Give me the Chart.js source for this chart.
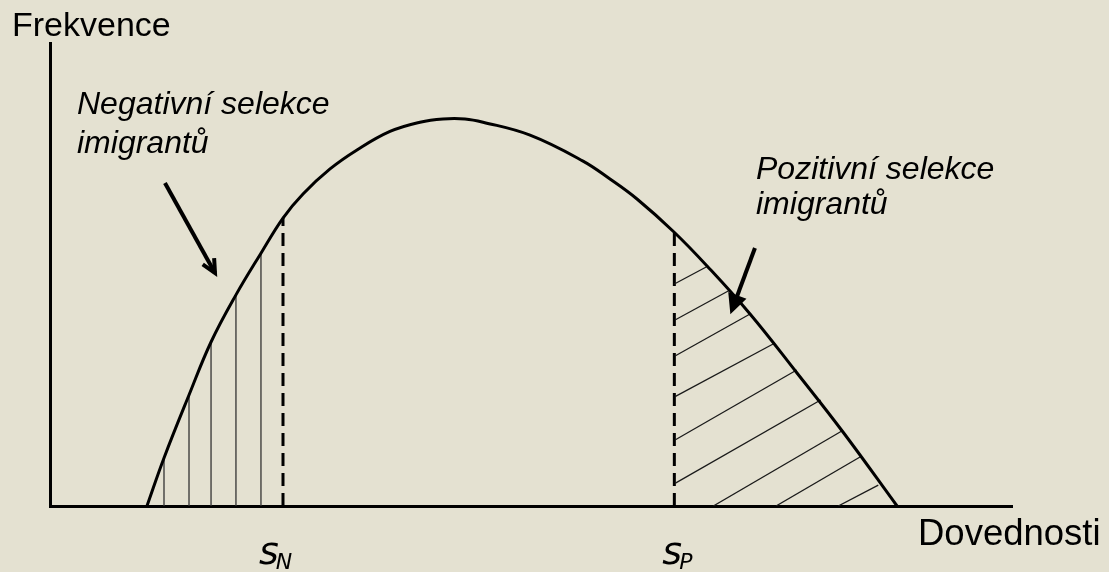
<!DOCTYPE html>
<html>
<head>
<meta charset="utf-8">
<script src="https://cdn.jsdelivr.net/npm/chart.js@4/dist/chart.umd.min.js"></script>
<style>
  html, body { margin: 0; padding: 0; background: #E4E1D1; }
</style>
</head>
<body>
<canvas id="graf" width="1109" height="572"></canvas>
<script>
// krivka rozdeleni dovednosti
const krivkaX = [10.08, 11.85, 14.45, 16.74, 19.33, 21.93, 24.22, 26.30, 29.11, 31.91, 35.34, 38.46, 40.85, 43.14, 45.01, 49.90, 55.41, 58.21, 61.02, 64.86, 68.30, 72.77, 77.65, 82.43, 88.05];
const krivkaY = [0, 10.37, 23.97, 35.42, 45.6, 54.6, 62.2, 67.4, 72.8, 76.9, 80.9, 82.9, 83.6, 83.6, 82.9, 80.1, 74.5, 70.63, 66.31, 59.18, 51.84, 41.47, 28.73, 15.98, 0];

// hranice s_N a s_P
const hraniceX = [24.22, 64.9];
const hraniceY = [62.2, 59.3];
const hraniceText = ['N', 'P'];

// svisle srafovani (negativni selekce)
const svisleX = [11.85, 14.45, 16.74, 19.33, 21.93];
const svisleY = [10.37, 23.97, 35.42, 45.6, 54.6];

// sikme srafovani (pozitivni selekce)
const sikmeX1 = [64.90, 64.97, 64.97, 64.97, 64.97, 64.97, 68.95, 75.47, 81.94];
const sikmeY1 = [47.95, 40.17, 32.40, 23.61, 14.25, 4.90, 0, 0, 0];
const sikmeX2 = [68.26, 70.69, 72.77, 75.36, 77.62, 80.11, 82.40, 84.38, 86.10];
const sikmeY2 = [51.68, 46.65, 41.47, 35.2, 29.37, 22.9, 16.3, 10.80, 4.5];

// sipky [x0, y0, x1, y1]
const sipkaNeg = [11.95, 69.76, 17.15, 50.32];
const sipkaPoz = [73.28, 55.72, 70.89, 42.33];

const datasets = [];

datasets.push({
  data: krivkaX.map((x, i) => ({ x: x, y: krivkaY[i] })),
  showLine: true,
  borderColor: '#000',
  borderWidth: 3,
  pointRadius: 0,
  tension: 0.4,
  clip: false
});

svisleX.forEach((x, i) => {
  datasets.push({
    data: [{ x: x, y: 0 }, { x: x, y: svisleY[i] }],
    showLine: true,
    borderColor: '#333',
    borderWidth: 1.3,
    pointRadius: 0
  });
});

sikmeX1.forEach((x, i) => {
  datasets.push({
    data: [{ x: x, y: sikmeY1[i] }, { x: sikmeX2[i], y: sikmeY2[i] }],
    showLine: true,
    borderColor: '#1a1a1a',
    borderWidth: 1.3,
    pointRadius: 0
  });
});

hraniceX.forEach((x, i) => {
  datasets.push({
    data: [{ x: x, y: 0 }, { x: x, y: hraniceY[i] }],
    showLine: true,
    borderColor: '#000',
    borderWidth: 3,
    borderDash: [13, 7],
    pointRadius: 0
  });
});

function sipka(ctx, x0, y0, x1, y1, plna) {
  const a = Math.atan2(y1 - y0, x1 - x0);
  const d = 15;
  ctx.beginPath();
  ctx.moveTo(x0, y0);
  ctx.lineTo(x1, y1);
  ctx.stroke();
  ctx.beginPath();
  ctx.moveTo(x1 - d * Math.cos(a - 0.45), y1 - d * Math.sin(a - 0.45));
  ctx.lineTo(x1, y1);
  ctx.lineTo(x1 - d * Math.cos(a + 0.45), y1 - d * Math.sin(a + 0.45));
  if (plna) {
    ctx.closePath();
    ctx.fill();
  }
  ctx.stroke();
}

const popisky = {
  id: 'popisky',
  beforeDraw(chart) {
    const ctx = chart.ctx;
    ctx.save();
    ctx.fillStyle = '#E4E1D1';
    ctx.fillRect(0, 0, chart.width, chart.height);
    ctx.restore();
  },
  afterDraw(chart) {
    const ctx = chart.ctx;
    const sx = chart.scales.x, sy = chart.scales.y;
    ctx.save();
    ctx.fillStyle = '#000';
    ctx.textBaseline = 'alphabetic';
    ctx.textAlign = 'left';

    ctx.font = '34px "Liberation Sans", Arial, sans-serif';
    ctx.fillText('Frekvence', 12, 36);
    ctx.font = '36.5px "Liberation Sans", Arial, sans-serif';
    ctx.fillText('Dovednosti', 918, 545);

    ctx.font = 'italic 32px "Liberation Sans", Arial, sans-serif';
    ctx.fillText('Negativní selekce', 77, 114);
    ctx.fillText('imigrantů', 77, 153);
    ctx.fillText('Pozitivní selekce', 756, 179);
    ctx.fillText('imigrantů', 756, 214);

    // s_N, s_P
    const posun = [-24, -12];
    hraniceX.forEach((x, i) => {
      const px = sx.getPixelForValue(x) + posun[i];
      ctx.font = 'oblique 38px "DejaVu Sans", sans-serif';
      ctx.fillText('s', px, 564);
      const w = ctx.measureText('s').width;
      ctx.font = 'oblique 22px "DejaVu Sans", sans-serif';
      ctx.fillText(hraniceText[i], px + w - 3, 569);
    });

    ctx.strokeStyle = '#000';
    ctx.lineWidth = 4;
    ctx.lineJoin = 'miter';
    [sipkaNeg, sipkaPoz].forEach((s, i) => {
      sipka(ctx, sx.getPixelForValue(s[0]), sy.getPixelForValue(s[1]),
        sx.getPixelForValue(s[2]), sy.getPixelForValue(s[3]), i === 1);
    });
    ctx.restore();
  }
};

const ctx = document.getElementById('graf').getContext('2d');

new Chart(ctx, {
  type: 'scatter',
  data: { datasets: datasets },
  options: {
    responsive: false,
    animation: false,
    layout: { padding: { left: 50, right: 97, top: 43, bottom: 66 } },
    plugins: {
      legend: { display: false },
      tooltip: { enabled: false }
    },
    scales: {
      x: {
        type: 'linear', min: 0, max: 100,
        grid: { display: false, drawTicks: false },
        ticks: { display: false },
        border: { color: '#000', width: 3 }
      },
      y: {
        type: 'linear', min: 0, max: 100,
        grid: { display: false, drawTicks: false },
        ticks: { display: false },
        border: { color: '#000', width: 3 }
      }
    }
  },
  plugins: [popisky]
});
</script>
</body>
</html>
